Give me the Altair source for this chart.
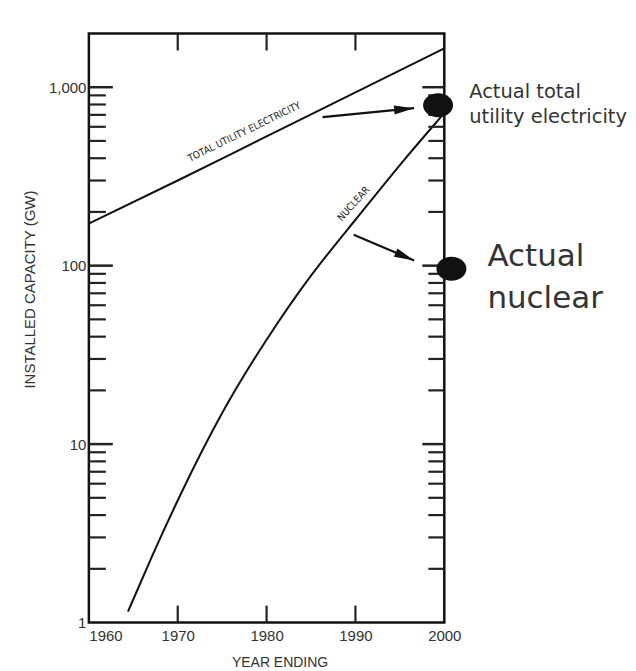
import altair as alt
import pandas as pd

# ---- data ----
total_years = [1960, 1970, 1980, 1990, 2000]
total_gw = [172, 300, 530, 935, 1650]

nuclear_years = [1964.4, 1967, 1970, 1975, 1980, 1985, 1990, 1995, 2000]
nuclear_gw = [1.15, 2.3, 4.9, 15.5, 39, 90, 180, 370, 716]

actual_labels = ["Actual total utility electricity", "Actual nuclear"]
actual_years = [1999.3, 2000.8]
actual_gw = [793, 96]

x_tick_labels = [1960, 1970, 1980, 1990, 2000]
x_inner_ticks = [1970, 1980, 1990]
y_tick_labels = [1, 10, 100, 1000]
y_major_inner = [10, 100, 1000]
y_minor_inner = [m * d for d in (1, 10, 100) for m in range(2, 10)]

# arrows (start -> end) in data units
arrow_x1 = [1986.3, 1989.8]
arrow_y1 = [680, 149]
arrow_x2 = [1996.6, 1996.6]
arrow_y2 = [763, 107]
arrow_angle = [355, 23]

W, H = 356, 590
FONT = "Liberation Sans"
GRAY = "#333333"

xscale = alt.Scale(domain=[1960, 2000], nice=False, zero=False)
yscale = alt.Scale(type="log", domain=[1, 2000], nice=False)

xaxis = alt.Axis(values=x_tick_labels, format="d", ticks=False, domain=False, grid=False,
                 labelFontSize=15, labelFont=FONT, labelColor=GRAY, labelPadding=6,
                 labelAlign=alt.ExprRef(expr="datum.value == 1960 ? 'left' : 'center'"),
                 title="YEAR ENDING", titleFont=FONT, titleFontSize=14, titleFontWeight="normal",
                 titleColor=GRAY, titlePadding=12, titleX=191)
yaxis = alt.Axis(values=y_tick_labels, format=",", ticks=False, domain=False, grid=False,
                 labelFontSize=15, labelFont=FONT, labelColor=GRAY, labelPadding=3,
                 title="INSTALLED CAPACITY (GW)", titleFont=FONT, titleFontSize=15,
                 titleFontWeight="normal", titleColor=GRAY, titlePadding=11, titleY=256)

df_total = pd.DataFrame({"year": total_years, "gw": total_gw})
df_nuc = pd.DataFrame({"year": nuclear_years, "gw": nuclear_gw})

total_line = alt.Chart(df_total).mark_line(color="#111", strokeWidth=2, interpolate="monotone").encode(
    x=alt.X("year:Q", scale=xscale, axis=xaxis),
    y=alt.Y("gw:Q", scale=yscale, axis=yaxis),
)
nuc_line = alt.Chart(df_nuc).mark_line(color="#111", strokeWidth=2, interpolate="basis").encode(
    x=alt.X("year:Q", scale=xscale, axis=xaxis),
    y=alt.Y("gw:Q", scale=yscale, axis=yaxis),
)

def ytick_layer(vals, x0, x1, sw):
    return alt.Chart(pd.DataFrame({"gw": vals})).mark_rule(color="#222", strokeWidth=sw).encode(
        y=alt.Y("gw:Q", scale=yscale, axis=yaxis),
        x=alt.value(x0), x2=alt.value(x1),
    )

def xtick_layer(vals, y0, y1):
    return alt.Chart(pd.DataFrame({"year": vals})).mark_rule(color="#222", strokeWidth=2.2).encode(
        x=alt.X("year:Q", scale=xscale, axis=xaxis),
        y=alt.value(y0), y2=alt.value(y1),
    )

ticks = [
    ytick_layer(y_major_inner, 0, 24, 2.5),
    ytick_layer(y_minor_inner, 0, 17, 2.2),
    ytick_layer(y_major_inner, W - 22, W, 2.5),
    ytick_layer(y_minor_inner, W - 16, W, 2.2),
    xtick_layer(x_inner_ticks, H - 17, H),
    xtick_layer(x_inner_ticks, 0, 17),
]

def enc(chart, xf="year", yf="gw"):
    return chart.encode(x=alt.X(f"{xf}:Q", scale=xscale, axis=xaxis),
                        y=alt.Y(f"{yf}:Q", scale=yscale, axis=yaxis))

# curve labels
df_lbl = pd.DataFrame({"year": [1977.5], "gw": [561], "t": ["TOTAL UTILITY ELECTRICITY"]})
lbl_total = enc(alt.Chart(df_lbl).mark_text(angle=334, fontSize=10,
                                            font="Liberation Sans Narrow, DejaVu Sans Condensed",
                                            color="#222")).encode(text="t:N")
df_lbl2 = pd.DataFrame({"year": [1989.8], "gw": [222], "t": ["NUCLEAR"]})
lbl_nuc = enc(alt.Chart(df_lbl2).mark_text(angle=312, fontSize=10,
                                           font="Liberation Sans Narrow, DejaVu Sans Condensed",
                                           color="#222")).encode(text="t:N")

# arrows
df_arr = pd.DataFrame({"year": arrow_x1, "gw": arrow_y1, "xe": arrow_x2, "ye": arrow_y2, "a": arrow_angle})
shafts = enc(alt.Chart(df_arr).mark_rule(color="#111", strokeWidth=2.2)).encode(x2="xe:Q", y2="ye:Q")
df_head = pd.DataFrame({"year": arrow_x2, "gw": arrow_y2, "a": arrow_angle})
heads = enc(alt.Chart(df_head).mark_point(shape="M0,0 L-2,-0.45 L-2,0.45 Z", size=400, filled=True,
                                          color="#111", opacity=1)).encode(
    angle=alt.Angle("a:Q", scale=None))

# actual dots
df_dot = pd.DataFrame({"year": actual_years, "gw": actual_gw, "name": actual_labels})
dots = enc(alt.Chart(df_dot).mark_point(shape="M-1,0 A1,0.8 0 1,1 1,0 A1,0.8 0 1,1 -1,0 Z", size=900,
                                        filled=True, color="#111", opacity=1))

# right-hand annotation texts
df_t1 = pd.DataFrame({"year": [2002.8, 2002.8], "gw": [868, 629], "t": ["Actual total", "utility electricity"]})
txt1 = enc(alt.Chart(df_t1).mark_text(align="left", baseline="alphabetic", fontSize=19.5, font="DejaVu Sans",
                                      color=GRAY)).encode(text="t:N")
df_t2 = pd.DataFrame({"year": [2004.85, 2004.85], "gw": [100, 58], "t": ["Actual", "nuclear"]})
txt2 = enc(alt.Chart(df_t2).mark_text(align="left", baseline="alphabetic", fontSize=31, font="DejaVu Sans",
                                      color=GRAY)).encode(text="t:N")

chart = alt.layer(total_line, nuc_line, *ticks, lbl_total, lbl_nuc, shafts, heads, dots, txt1, txt2).properties(
    width=W, height=H,
    padding={"left": 14, "top": 23, "right": 0, "bottom": 0},
).configure_view(stroke="#111", strokeWidth=2.5)

chart.save("out.html", embed_options={"renderer": "svg", "actions": False})
